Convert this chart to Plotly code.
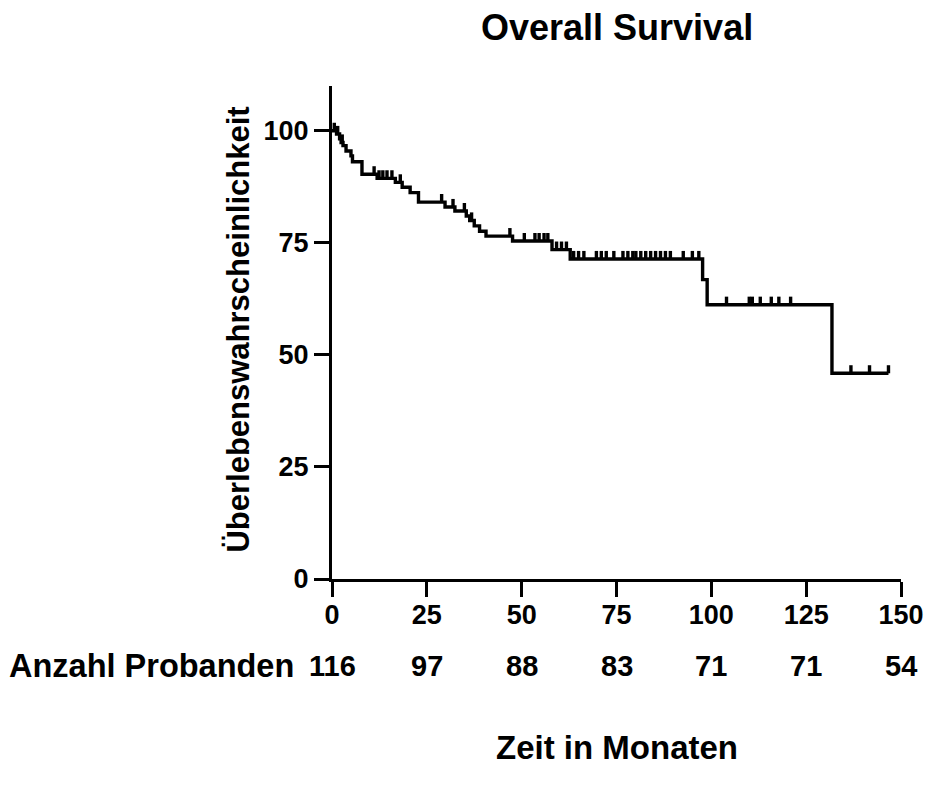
import numpy as np
import plotly.graph_objects as go

# ---- data ----
event_times = [0, 1.2, 2.0, 2.4, 2.9, 3.7, 5.0, 5.4, 7.9, 11.9, 16.7, 18.5, 20.6, 22.8,
               29.8, 32.4, 35.4, 36.3, 37.5, 38.9, 40.6, 47.6, 58.0, 62.8, 97.7, 98.9, 131.8]
survival = [100.0, 99.3, 98.2, 97.4, 96.7, 95.5, 94.4, 93.1, 90.3, 89.4, 88.5, 87.4, 86.2, 84.1,
            83.0, 82.1, 81.0, 80.0, 78.8, 77.6, 76.5, 75.4, 73.5, 71.4, 66.8, 61.2, 45.9]
last_followup = 146.7
censor_times = [0.6, 1.5, 2.7, 11.1, 12.4, 13.4, 14.5, 15.8, 18.0, 28.9, 31.9, 34.9, 36.8,
                46.9, 50.7, 53.5, 54.6, 55.9, 56.9, 59.2, 60.5, 61.8, 63.7, 65.0, 66.4,
                69.7, 71.0, 72.3, 74.3, 76.7, 78.0, 79.3, 80.1, 81.4, 82.7, 84.0, 85.3,
                86.6, 87.9, 89.2, 92.6, 95.0, 96.7, 104.0, 110.0, 110.8, 112.9, 115.8,
                117.8, 120.9, 136.8, 141.7, 146.7]
risk_times = [0, 25, 50, 75, 100, 125, 150]
risk_numbers = [116, 97, 88, 83, 71, 71, 54]
x_ticks = [0, 25, 50, 75, 100, 125, 150]
y_ticks = [0, 25, 50, 75, 100]

FONT = "Liberation Sans"
tick_h = 1.8

fig = go.Figure()

# survival step curve
fig.add_trace(go.Scatter(
    x=event_times + [last_followup], y=survival + [survival[-1]],
    mode="lines", line=dict(color="black", width=3.4, shape="hv"),
    hoverinfo="skip", showlegend=False, cliponaxis=False))

# censor ticks
et = np.array(event_times)
sv = np.array(survival)
cx, cy = [], []
for t in censor_times:
    lvl = sv[np.searchsorted(et, t, side="right") - 1]
    cx += [t, t, None]
    cy += [lvl, lvl + tick_h, None]
fig.add_trace(go.Scatter(x=cx, y=cy, mode="lines", line=dict(color="black", width=3.4),
                         hoverinfo="skip", showlegend=False, cliponaxis=False))

axis_common = dict(showline=True, linecolor="black", linewidth=3, ticks="outside",
                   ticklen=15, tickwidth=3, tickcolor="black", showgrid=False, zeroline=False,
                   tickfont=dict(family=FONT, size=27, color="black", weight="bold"))
fig.update_xaxes(range=[0, 150], tickvals=x_ticks, ticktext=[str(v) for v in x_ticks],
                 ticklabelstandoff=-5, **axis_common)
fig.update_yaxes(range=[0, 110], tickvals=y_ticks, ticktext=[str(v) for v in y_ticks], **axis_common)

ann = []
for t, n in zip(risk_times, risk_numbers):
    ann.append(dict(x=t, y=-0.1756, xref="x", yref="paper", text=f"<b>{n}</b>", showarrow=False,
                    xanchor="center", yanchor="middle", font=dict(family=FONT, size=29, color="black")))
ann.append(dict(x=-0.0625, y=-0.1756, xref="paper", yref="paper", text="<b>Anzahl Probanden</b>",
                showarrow=False, xanchor="right", yanchor="middle",
                font=dict(family=FONT, size=32.5, color="black")))
ann.append(dict(x=0.5, y=-0.342, xref="paper", yref="paper", text="<b>Zeit in Monaten</b>",
                showarrow=False, xanchor="center", yanchor="middle",
                font=dict(family=FONT, size=33, color="black")))
ann.append(dict(x=-0.166, y=0.505, xref="paper", yref="paper", text="<b>Überlebenswahrscheinlichkeit</b>",
                showarrow=False, xanchor="center", yanchor="middle", textangle=-90,
                font=dict(family=FONT, size=31, color="black")))
ann.append(dict(x=0.5, y=1.118, xref="paper", yref="paper", text="<b>Overall Survival</b>",
                showarrow=False, xanchor="center", yanchor="middle",
                font=dict(family=FONT, size=36, color="black")))

fig.update_layout(width=936, height=790, margin=dict(l=332, r=28, t=86, b=211),
                  plot_bgcolor="white", paper_bgcolor="white", annotations=ann)

fig.write_html("out.html")
